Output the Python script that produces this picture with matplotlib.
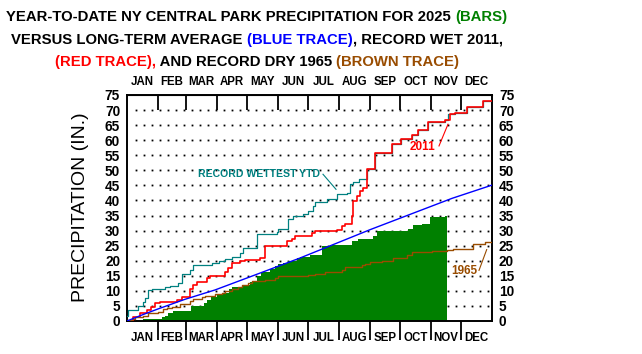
import numpy as np
import matplotlib
matplotlib.use("Agg")
from matplotlib import pyplot as plt

plt.rcParams["font.family"] = ["Liberation Sans", "DejaVu Sans"]

# month labels and boundaries (day of year)
months = ["JAN", "FEB", "MAR", "APR", "MAY", "JUN", "JUL", "AUG", "SEP", "OCT", "NOV", "DEC"]
month_edges = [0, 31, 59, 90, 120, 151, 181, 212, 243, 273, 304, 334, 365]
y_ticks = list(range(0, 80, 5))

# 2025 year-to-date precipitation (day it changes, inches)
bar_days = [0, 16, 35, 38, 41, 46, 64, 77, 80, 84, 90, 95, 102, 105, 115, 123, 130, 134,
            143, 148, 151, 156, 161, 170, 173, 183, 195, 205, 210, 225, 231, 246, 250,
            268, 281, 286, 295, 303, 318]
bar_vals = [0.0, 0.6, 1.2, 1.7, 2.6, 3.4, 5.0, 6.1, 7.0, 7.8, 8.7, 9.4, 10.6, 11.2, 12.0, 13.1,
            15.0, 16.4, 17.3, 18.4, 18.9, 19.4, 20.0, 20.9, 21.4, 22.0, 24.8, 25.1, 25.3,
            26.4, 27.2, 28.1, 29.8, 30.0, 30.6, 32.0, 32.3, 34.4, 35.0]
bar_end = 320

# long-term average
avg_days = [0, 15, 31, 58, 88, 121, 173, 243, 325, 365]
avg_vals = [0.0, 2.0, 4.0, 7.2, 10.3, 14.4, 20.9, 30.3, 40.7, 45.1]

# record wet 2011
wet_days = [0, 6, 13, 20, 24, 28, 33, 50, 55, 63, 66, 70, 80, 83, 98, 101, 105, 113, 118,
            133, 138, 140, 160, 165, 168, 173, 185, 188, 210, 215, 218, 225, 226, 230, 233,
            236, 240, 248, 250, 265, 274, 285, 291, 301, 318, 323, 328, 340, 356, 365]
wet_vals = [0.1, 1.2, 2.8, 3.5, 4.8, 5.9, 6.3, 7.0, 8.1, 10.5, 12.0, 13.0, 14.2, 14.8, 16.4,
            17.6, 19.2, 19.8, 20.1, 20.9, 24.8, 25.0, 26.4, 27.2, 28.1, 28.3, 29.2, 29.8,
            30.3, 31.4, 32.3, 34.8, 39.8, 41.4, 43.1, 44.2, 50.3, 55.6, 55.9, 58.7, 60.3,
            61.7, 63.4, 66.1, 66.7, 68.7, 69.0, 70.9, 72.9, 72.9]

# record wettest year-to-date
rec_days = [0, 1, 11, 16, 18, 21, 25, 38, 43, 51, 55, 63, 66, 85, 92, 98, 105, 113, 116,
            130, 133, 150, 151, 161, 166, 176, 181, 186, 188, 200, 210, 220, 223, 226, 232,
            240, 248, 250, 265, 274, 285, 291, 301, 318, 321, 328, 340, 356, 365]
rec_vals = [1.7, 3.7, 5.0, 6.4, 7.6, 10.3, 10.6, 11.2, 11.7, 12.6, 15.6, 17.0, 18.7, 19.2,
            19.8, 20.6, 21.4, 22.6, 24.2, 28.9, 29.0, 29.6, 30.6, 33.7, 34.8, 35.6, 36.4,
            38.1, 39.6, 40.6, 42.0, 42.6, 45.3, 46.2, 47.0, 50.3, 55.6, 55.9, 58.7, 60.3,
            61.7, 63.4, 66.1, 66.7, 68.7, 69.0, 70.9, 72.9, 72.9]

# record dry 1965
dry_days = [0, 5, 8, 16, 21, 31, 36, 40, 45, 53, 63, 66, 75, 78, 88, 95, 98, 105, 111, 115,
            121, 125, 138, 148, 151, 181, 188, 198, 208, 215, 218, 235, 238, 243, 255, 266,
            280, 285, 305, 320, 326, 346, 348, 358, 365]
dry_vals = [0.3, 0.6, 1.4, 1.8, 2.6, 3.1, 3.9, 4.2, 4.8, 5.7, 6.8, 7.2, 7.8, 8.3, 8.9, 9.4,
            9.8, 10.6, 11.2, 12.0, 12.6, 13.3, 13.7, 14.2, 14.8, 15.2, 15.6, 16.1, 16.4,
            17.0, 17.9, 18.7, 19.0, 19.6, 20.0, 20.9, 22.0, 22.9, 23.1, 23.4, 24.0, 25.6,
            25.7, 26.2, 26.2]

GREEN = "#008000"
TEAL = "#008080"
BROWN = "#994c00"

fig = plt.figure(figsize=(6.42, 3.54), dpi=100)
ax = fig.add_axes([127 / 642, 33 / 354, 365 / 642, 226 / 354])

# background dot grid
gx = np.arange(9.3, 365, 8)
gy = np.arange(5, 75, 5)
GX, GY = np.meshgrid(gx, gy)
ax.plot(GX.ravel(), GY.ravel(), ls="none", marker="s", ms=1.3, mew=0, color="black", zorder=1)

widths = np.diff(bar_days + [bar_end])
ax.bar(bar_days, bar_vals, width=widths, align="edge", color=GREEN, linewidth=0, zorder=2)

ax.step(rec_days, rec_vals, where="post", color=TEAL, lw=0.9, zorder=3)
ax.step(wet_days, wet_vals, where="post", color="red", lw=1.2, zorder=4)
ax.step(dry_days, dry_vals, where="post", color=BROWN, lw=1.0, zorder=4)
ax.plot(avg_days, avg_vals, color="blue", lw=1.0, zorder=5)

# annotations
ax.text(132, 48.7, "RECORD WETTEST YTD", color=TEAL, fontsize=7.6, fontweight="bold",
        ha="center", va="center")
ax.plot([196, 209], [48.7, 43.7], color=TEAL, lw=0.8)
ax.text(296, 57.6, "2011", color="red", fontsize=8.5, fontweight="bold", ha="center", va="center")
ax.plot([312, 321], [58.1, 65.3], color="red", lw=0.8)
ax.text(337.5, 16.6, "1965", color=BROWN, fontsize=8.5, fontweight="bold", ha="center", va="center")
ax.plot([352, 359.7], [16.8, 23.7], color=BROWN, lw=0.8)

ax.set_xlim(0, 365)
ax.set_ylim(0, 75)
for s in ax.spines.values():
    s.set_linewidth(1.4)

mids = [(a + b) / 2 for a, b in zip(month_edges[:-1], month_edges[1:])]
ax.set_xticks(mids, labels=months, fontsize=8.3, fontweight="bold")
ax.set_xticks(month_edges[1:-1], minor=True)
ax.tick_params(axis="x", which="major", length=0, pad=8)
ax.tick_params(axis="x", which="minor", direction="out", length=14, width=1.3)

sec = ax.secondary_xaxis("top")
sec.set_xticks(mids, labels=months, fontsize=8.3, fontweight="bold")
sec.set_xticks(month_edges[1:-1], minor=True)
sec.tick_params(axis="x", which="major", length=0, pad=5)
sec.tick_params(axis="x", which="minor", direction="in", length=11, width=1.3)

ax.set_yticks(y_ticks, labels=[str(v) for v in y_ticks], fontsize=9.8, fontweight="bold")
ax.tick_params(axis="y", which="major", length=0, pad=5, left=True, right=True,
               labelleft=True, labelright=True)

fig.text(81 / 642, 0.415, "PRECIPITATION (IN.)", rotation=90, fontsize=14,
         ha="center", va="center")

# multicolour title
title_lines = [
    [("YEAR-TO-DATE NY CENTRAL PARK PRECIPITATION FOR 2025 ", "black"), ("(BARS)", GREEN)],
    [("VERSUS LONG-TERM AVERAGE ", "black"), ("(BLUE TRACE)", "blue"),
     (", RECORD WET 2011,", "black")],
    [("(RED TRACE),", "red"), (" AND RECORD DRY 1965 ", "black"), ("(BROWN TRACE)", BROWN)],
]
title_y = [17, 40, 62]
tkw = dict(fontsize=10.7, fontweight="bold", va="center", ha="left")
renderer = fig.canvas.get_renderer()


def text_w(s):
    t = fig.text(0, 0, s, **tkw)
    w = t.get_window_extent(renderer).width
    t.remove()
    return w


W = 642
for pieces, ypx in zip(title_lines, title_y):
    full = "".join(p for p, c in pieces)
    x0 = 257 - text_w(full) / 2
    pre = ""
    for s, c in pieces:
        off = text_w(pre + "I") - text_w("I") if pre else 0
        fig.text((x0 + off) / W, 1 - ypx / 354, s, color=c, **tkw)
        pre += s

fig.savefig("out.png", dpi=100)
